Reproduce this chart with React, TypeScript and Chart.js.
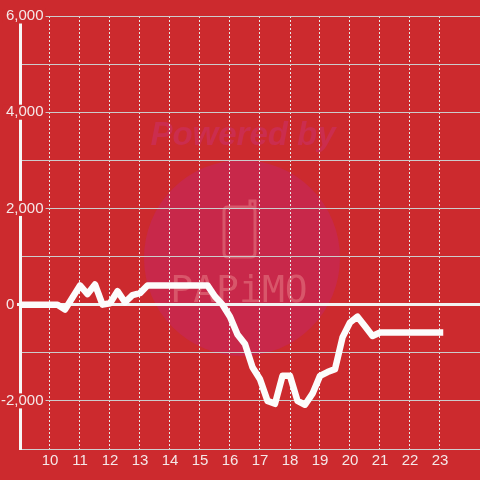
import React, { useEffect, useRef } from 'react';
import { Chart, registerables } from 'chart.js';

Chart.register(...registerables);

// Hours of the day (15-minute steps) and the running balance at each step
const hours = [
  9, 9.25, 9.5, 9.75, 10, 10.25, 10.5, 10.75, 11, 11.25, 11.5, 11.75,
  12, 12.25, 12.5, 12.75, 13, 13.25, 13.5, 13.75, 14, 14.25, 14.5, 14.75,
  15, 15.25, 15.5, 15.75, 16, 16.25, 16.5, 16.75, 17, 17.25, 17.5, 17.75,
  18, 18.25, 18.5, 18.75, 19, 19.25, 19.5, 19.75, 20, 20.25, 20.5, 20.75,
  21, 21.25, 21.5, 21.75, 22, 22.25, 22.5, 22.75, 23,
];
const values = [
  0, 0, 0, 0, 0, 0, -100, 150, 400, 220, 420, 0,
  30, 280, 50, 200, 240, 400, 400, 400, 400, 400, 400, 400,
  400, 400, 170, 0, -250, -620, -820, -1300, -1550, -2000, -2060, -1480,
  -1480, -2000, -2080, -1850, -1480, -1400, -1340, -680, -370, -250, -450, -650,
  -580, -580, -580, -580, -580, -580, -580, -580, -580,
];

// Axis ranges and tick steps
const xMin = 9;
const xMax = 9 + 460 / 30;
const xStep = 1;
const yMin = -3000;
const yMax = 6000;
const yStep = 1000;
const yLabelEvery = 2000;

const BG = '#cc2a2e';
const TEXT = '#f5e8e8';
const FONT = '"Liberation Sans", Arial, sans-serif';

const watermark = {
  id: 'watermark',
  beforeDraw(chart: any) {
    const ctx = chart.ctx as CanvasRenderingContext2D;
    ctx.save();
    ctx.fillStyle = BG;
    ctx.fillRect(0, 0, chart.width, chart.height);
    // circle
    ctx.fillStyle = '#c8284a';
    ctx.beginPath();
    ctx.arc(242, 258, 98, 0, Math.PI * 2);
    ctx.fill();
    // "Powered by"
    ctx.font = 'italic bold 33px ' + FONT;
    ctx.fillStyle = '#cb2d4e';
    ctx.textAlign = 'center';
    ctx.textBaseline = 'alphabetic';
    ctx.fillText('Powered by', 243, 145);
    // phone icon
    ctx.strokeStyle = '#d8566a';
    ctx.lineWidth = 3;
    ctx.beginPath();
    ctx.moveTo(248, 207);
    ctx.lineTo(251, 207);
    ctx.quadraticCurveTo(255, 207, 255, 211);
    ctx.lineTo(255, 253);
    ctx.quadraticCurveTo(255, 257, 251, 257);
    ctx.lineTo(228, 257);
    ctx.quadraticCurveTo(224, 257, 224, 253);
    ctx.lineTo(224, 211);
    ctx.quadraticCurveTo(224, 207, 228, 207);
    ctx.lineTo(248, 207);
    ctx.stroke();
    ctx.beginPath();
    ctx.moveTo(250, 208);
    ctx.lineTo(250, 201);
    ctx.lineTo(255, 201);
    ctx.lineTo(255, 208);
    ctx.stroke();
    // brand text
    ctx.font = '38px "DejaVu Sans Mono", monospace';
    ctx.fillStyle = '#d8566a';
    ctx.fillText('PAPiMO', 239, 302);
    ctx.restore();
  },
};

const isZero = (c: any) => c.tick && c.tick.value === 0;

export default function App() {
  const ref = useRef<HTMLCanvasElement>(null);

  useEffect(() => {
    if (!ref.current) return;
    const chart = new Chart(ref.current, {
      type: 'line',
      data: {
        datasets: [
          {
            data: hours.map((h, i) => ({ x: h, y: values[i] })),
            borderColor: '#fcfcfc',
            borderWidth: 6.5,
            pointRadius: 0,
            tension: 0,
            borderJoinStyle: 'round',
            borderCapStyle: 'square',
            fill: false,
          },
        ],
      },
      options: {
        animation: false,
        responsive: false,
        events: [],
        layout: { padding: { top: 16, bottom: 7, left: 0, right: 0 } },
        plugins: {
          legend: { display: false },
          tooltip: { enabled: false },
          title: { display: false },
        },
        scales: {
          x: {
            type: 'linear',
            min: xMin,
            max: xMax,
            afterBuildTicks: (s: any) => {
              s.ticks = s.ticks.filter((t: any) => Number.isInteger(t.value) && t.value > xMin);
            },
            grid: { color: '#e8e8e8', lineWidth: 1, drawTicks: false },
            border: { display: true, color: '#cfcfcf', width: 1, dash: [2, 2] },
            ticks: {
              stepSize: xStep,
              padding: 3,
              color: TEXT,
              autoSkip: false,
              maxRotation: 0,
              font: { family: FONT, size: 15 },
              callback: (v: any) => String(v),
            },
          },
          y: {
            type: 'linear',
            min: yMin,
            max: yMax,
            afterFit: (s: any) => {
              s.width = 20;
            },
            grid: {
              color: (c: any) => (isZero(c) ? '#f2f2f2' : '#cccccc'),
              lineWidth: (c: any) => (isZero(c) ? 3 : 1),
              drawTicks: true,
              tickLength: 3,
              tickColor: (c: any) => (isZero(c) ? '#f2f2f2' : 'rgba(0,0,0,0)'),
              tickWidth: (c: any) => (isZero(c) ? 3 : 1),
            },
            border: { display: true, color: '#f7f7f7', width: 3 },
            ticks: {
              stepSize: yStep,
              mirror: true,
              crossAlign: 'far',
              padding: -19,
              color: TEXT,
              font: { family: FONT, size: 15, lineHeight: 1 },
              callback: (v: any) => {
                if (v % yLabelEvery !== 0) return '';
                if (v === 0) return '0       ';
                return Number(v).toLocaleString('en-US');
              },
              showLabelBackdrop: true,
              backdropColor: (c: any) =>
                c.tick && c.tick.value % yLabelEvery === 0 && c.tick.value !== 0 ? BG : 'rgba(0,0,0,0)',
              backdropPadding: { top: 0, bottom: 0, left: 3, right: 2 },
            },
          },
        },
      },
      plugins: [watermark],
    } as any);
    return () => chart.destroy();
  }, []);

  return (
    <div style={{ position: 'fixed', left: 0, top: 0, width: 480, height: 480, background: BG }}>
      <canvas ref={ref} width={480} height={480} style={{ display: 'block' }} />
    </div>
  );
}
